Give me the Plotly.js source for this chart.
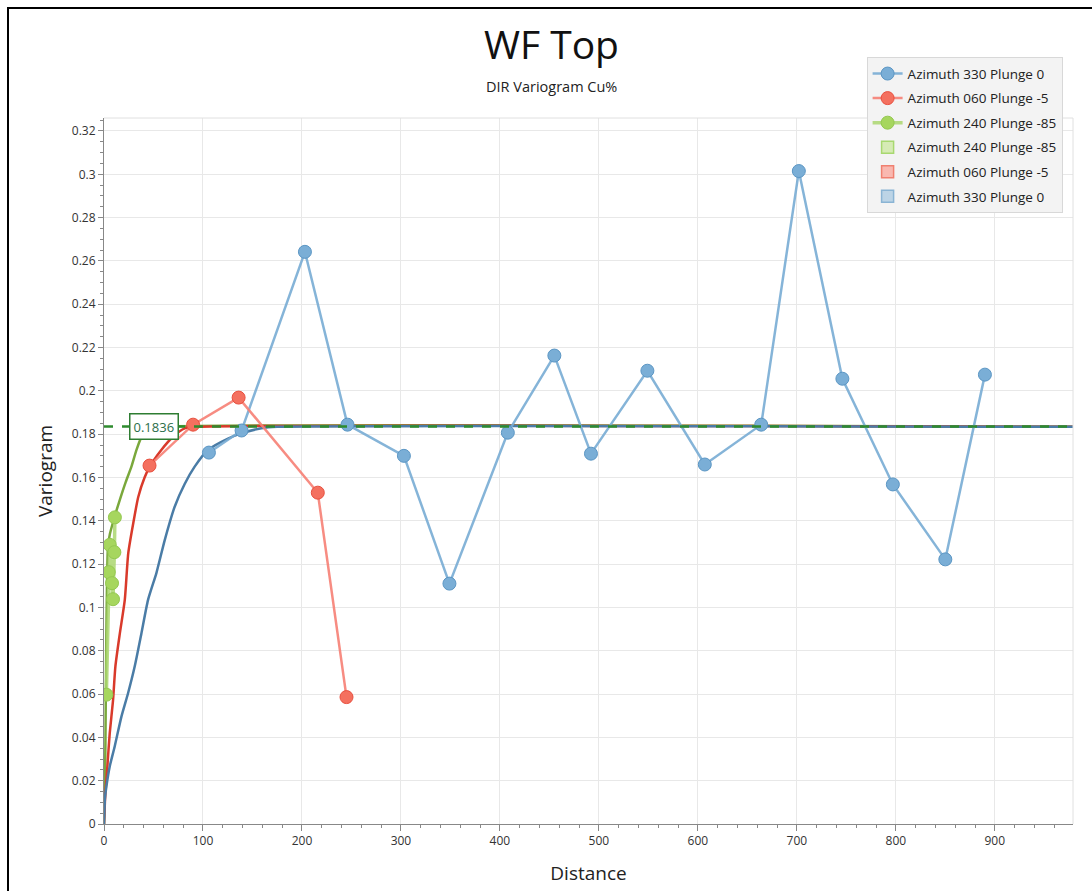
<!DOCTYPE html>
<html>
<head>
<meta charset="utf-8">
<script src="https://cdn.plot.ly/plotly-3.0.1.min.js"></script>
<style>
html,body{margin:0;padding:0;background:#fff;overflow:hidden;}
#chart{width:1092px;height:891px;}
#frame{position:absolute;left:7px;top:7px;width:1100px;height:900px;border-left:2px solid #000;border-top:2px solid #000;pointer-events:none;}
</style>
</head>
<body>
<div id="chart"></div>
<div id="frame"></div>
<script>
// Observed experimental variogram points
const blueX = [106, 139, 203, 246, 303, 349, 408, 455, 492, 549, 607, 664, 702, 746, 797, 850, 890];
const blueY = [0.1715, 0.1817, 0.2642, 0.1844, 0.170, 0.111, 0.1807, 0.2163, 0.171, 0.2093, 0.166, 0.1844, 0.3015, 0.2056, 0.1568, 0.1222, 0.2075];
const redX = [46, 90, 136, 216, 245];
const redY = [0.1655, 0.1844, 0.1969, 0.153, 0.0586];
const greenX = [2.4, 4.8, 5.8, 8.1, 9.1, 10.5, 11.0];
const greenY = [0.0597, 0.1163, 0.1289, 0.1112, 0.1038, 0.1255, 0.1416];

// Model curves
const modelBlueX = [0, 1, 2.4, 5.8, 10.8, 17.6, 24.3, 31, 37.8, 44.5, 53, 61.3, 71.4, 81.5, 91.6, 105, 125.3, 138.8, 159, 175, 979];
const modelBlueY = [0, 0.012, 0.0173, 0.0266, 0.0358, 0.0496, 0.0604, 0.0727, 0.088, 0.1035, 0.116, 0.131, 0.1465, 0.157, 0.165, 0.1727, 0.178, 0.1804, 0.1827, 0.1834, 0.1834];
const modelRedX = [0, 1, 1.7, 3.4, 5.8, 9.1, 11.5, 16, 21, 24.5, 29.6, 34.6, 41, 46.2, 57.9, 69.7, 81.5, 95, 979];
const modelRedY = [0, 0.011, 0.0158, 0.0266, 0.042, 0.057, 0.0727, 0.088, 0.1035, 0.125, 0.139, 0.151, 0.160, 0.165, 0.1727, 0.1788, 0.1827, 0.1834, 0.1834];
const modelGreenX = [0, 0.8, 1.5, 2.2, 3, 4, 6, 10.8, 15.9, 22, 27.7, 33, 39.6, 45, 50, 979];
const modelGreenY = [0, 0.012, 0.04, 0.08, 0.11, 0.128, 0.134, 0.142, 0.1496, 0.158, 0.165, 0.173, 0.1804, 0.1828, 0.1834, 0.1834];

const sill = 0.1836;
const sillX = [0, 979];

const seriesNames = ['Azimuth 330 Plunge 0', 'Azimuth 060 Plunge -5', 'Azimuth 240 Plunge -85'];

const font = '"Open Sans", "Noto Sans", sans-serif';

const traces = [
  // model curves (no legend)
  {x: modelGreenX, y: modelGreenY, mode: 'lines', line: {color: '#7aa83c', width: 2.5, shape: 'spline', smoothing: 0.6}, showlegend: false, hoverinfo: 'skip'},
  {x: modelRedX, y: modelRedY, mode: 'lines', line: {color: '#d93a2b', width: 2.5, shape: 'spline', smoothing: 0.6}, showlegend: false, hoverinfo: 'skip'},
  {x: modelBlueX, y: modelBlueY, mode: 'lines', line: {color: '#4a7ca6', width: 2.5, shape: 'spline', smoothing: 0.6}, showlegend: false, hoverinfo: 'skip'},
  // observed
  {x: blueX, y: blueY, name: seriesNames[0], legendgroup: 'a', mode: 'lines+markers',
   line: {color: 'rgba(120,172,212,0.9)', width: 2.5},
   marker: {color: '#7aaed6', size: 13, line: {color: '#5b96c4', width: 1}}},
  {x: redX, y: redY, name: seriesNames[1], legendgroup: 'b', mode: 'lines+markers',
   line: {color: 'rgba(246,128,116,0.9)', width: 2.5},
   marker: {color: '#f4705f', size: 13, line: {color: '#e8503f', width: 1}}},
  {x: greenX, y: greenY, name: seriesNames[2], legendgroup: 'c', mode: 'lines+markers',
   line: {color: 'rgba(170,214,110,0.85)', width: 3.5},
   marker: {color: '#a6d65e', size: 13, line: {color: '#94c850', width: 1}}},
  // area legend entries
  {type: 'bar', x: [null], y: [null], name: seriesNames[2], legendgroup: 'd',
   marker: {color: '#d6ebb5', line: {color: '#a8d870', width: 1.5}}},
  {type: 'bar', x: [null], y: [null], name: seriesNames[1], legendgroup: 'e',
   marker: {color: '#f9b8b0', line: {color: '#f08070', width: 1.5}}},
  {type: 'bar', x: [null], y: [null], name: seriesNames[0], legendgroup: 'f',
   marker: {color: '#bcd4e6', line: {color: '#8ab4d4', width: 1.5}}},
  // sill line
  {x: sillX, y: [sill, sill], mode: 'lines', line: {color: '#2e8b2e', width: 2.5, dash: 'dash'}, showlegend: false, hoverinfo: 'skip'}
];

const layout = {
  width: 1092, height: 891,
  margin: {l: 104, r: 19, t: 118, b: 67},
  paper_bgcolor: '#fff', plot_bgcolor: '#fff',
  font: {family: font, size: 12, color: '#333'},
  title: {text: 'WF Top', x: 0.505, xanchor: 'center', xref: 'container', y: 0.949, yanchor: 'middle', yref: 'container',
          font: {family: font, size: 39, color: '#111'}},
  showlegend: true,
  legend: {x: 0.787, y: 1.086, xanchor: 'left', yanchor: 'top', bgcolor: '#f3f3f3', bordercolor: '#d8d8d8', borderwidth: 1,
           font: {family: font, size: 13.5, color: '#222'}, itemsizing: 'trace', tracegroupgap: 4, traceorder: 'grouped'},
  xaxis: {range: [0, 979], dtick: 100, tick0: 0, showgrid: true, gridcolor: '#e8e8e8', zeroline: false,
          showline: true, linecolor: '#888', linewidth: 1, mirror: false, ticks: 'outside', ticklen: 6, tickcolor: '#888',
          minor: {dtick: 20, tick0: 0, ticklen: 3, tickcolor: '#888', showgrid: false},
          title: {text: 'Distance', font: {family: font, size: 19, color: '#222'}, standoff: 18}},
  yaxis: {range: [0, 0.326], dtick: 0.02, tick0: 0, showgrid: true, gridcolor: '#e8e8e8', zeroline: false,
          showline: true, linecolor: '#888', linewidth: 1, ticks: 'outside', ticklen: 5, tickcolor: '#888',
          minor: {dtick: 0.005, tick0: 0, ticklen: 3, tickcolor: '#888', showgrid: false},
          title: {text: 'Variogram', font: {family: font, size: 19, color: '#222'}, standoff: 14}},
  shapes: [
    {type: 'line', xref: 'paper', yref: 'paper', x0: 1, x1: 1, y0: 0, y1: 1, line: {color: '#e0e0e0', width: 1}},
    {type: 'line', xref: 'paper', yref: 'paper', x0: 0, x1: 1, y0: 1, y1: 1, line: {color: '#e0e0e0', width: 1}}
  ],
  annotations: [
    {x: 0.462, y: 1.045, xref: 'paper', yref: 'paper', text: 'DIR Variogram Cu%', showarrow: false, yanchor: 'middle',
     font: {family: font, size: 14.5, color: '#222'}},
    {x: 51, y: sill, xref: 'x', yref: 'y', text: '0.1836', showarrow: false, bgcolor: '#fff', bordercolor: '#2e7d32',
     borderwidth: 1.5, borderpad: 3, font: {family: font, size: 13, color: '#2b6e4a'}}
  ]
};

Plotly.newPlot('chart', traces, layout, {displayModeBar: false, staticPlot: true});
</script>
</body>
</html>
